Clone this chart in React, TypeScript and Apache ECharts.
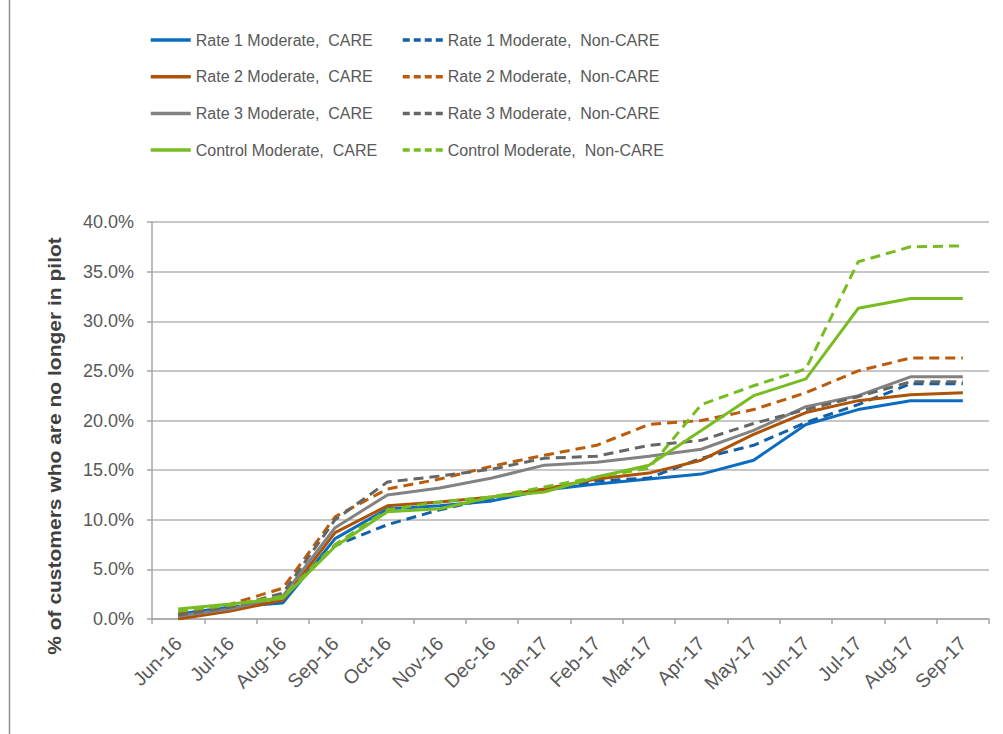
import React, { useEffect, useRef } from "react";
import * as echarts from "echarts";

const categories = [
  "Jun-16", "Jul-16", "Aug-16", "Sep-16", "Oct-16", "Nov-16", "Dec-16", "Jan-17",
  "Feb-17", "Mar-17", "Apr-17", "May-17", "Jun-17", "Jul-17", "Aug-17", "Sep-17",
];

const rate1Care = [0.5, 1.2, 1.6, 8.1, 11.1, 11.4, 11.9, 13.0, 13.6, 14.1, 14.6, 16.0, 19.6, 21.1, 22.0, 22.0];
const rate1NonCare = [0.3, 1.1, 2.2, 7.4, 9.5, 11.0, 12.2, 13.0, 13.9, 14.2, 16.2, 17.5, 19.8, 21.6, 23.7, 23.7];
const rate2Care = [0.0, 0.8, 1.9, 8.7, 11.4, 11.8, 12.3, 13.1, 14.1, 14.7, 16.0, 18.6, 20.8, 22.0, 22.6, 22.8];
const rate2NonCare = [0.5, 1.5, 3.1, 10.3, 13.1, 14.1, 15.4, 16.5, 17.5, 19.6, 20.0, 21.1, 22.8, 25.0, 26.3, 26.3];
const rate3Care = [0.3, 1.0, 2.3, 9.2, 12.5, 13.2, 14.2, 15.5, 15.8, 16.4, 17.1, 19.0, 21.4, 22.5, 24.4, 24.4];
const rate3NonCare = [0.4, 1.2, 2.6, 10.0, 13.8, 14.4, 15.1, 16.2, 16.4, 17.5, 18.0, 19.7, 21.1, 22.4, 23.9, 23.9];
const controlCare = [1.0, 1.5, 2.1, 7.3, 10.8, 11.1, 12.3, 12.8, 14.3, 15.5, 19.0, 22.5, 24.2, 31.3, 32.3, 32.3];
const controlNonCare = [0.8, 1.4, 2.3, 7.5, 11.0, 11.8, 12.3, 13.3, 14.3, 15.2, 21.6, 23.5, 25.2, 36.0, 37.5, 37.6];

const yTicks = { min: 0, max: 40, interval: 5 };
const yTitle = "% of customers who are no longer in pilot";

const FONT = '"Liberation Sans", Arial, sans-serif';
const TEXT = "#595959";

export default function App() {
  const ref = useRef<HTMLDivElement>(null);

  useEffect(() => {
    document.body.style.margin = "0";
    const chart = echarts.init(ref.current!, null, { renderer: "svg" });

    const defs = [
      { name: "Rate 1 Moderate,  CARE", data: rate1Care, color: "#0A6DC2", dashed: false },
      { name: "Rate 1 Moderate,  Non-CARE", data: rate1NonCare, color: "#145FA6", dashed: true },
      { name: "Rate 2 Moderate,  CARE", data: rate2Care, color: "#AE5205", dashed: false },
      { name: "Rate 2 Moderate,  Non-CARE", data: rate2NonCare, color: "#BA5C0C", dashed: true },
      { name: "Rate 3 Moderate,  CARE", data: rate3Care, color: "#828282", dashed: false },
      { name: "Rate 3 Moderate,  Non-CARE", data: rate3NonCare, color: "#666666", dashed: true },
      { name: "Control Moderate,  CARE", data: controlCare, color: "#77BD22", dashed: false },
      { name: "Control Moderate,  Non-CARE", data: controlNonCare, color: "#77BD22", dashed: true },
    ];

    const series = defs.map((d) => ({
      name: d.name,
      type: "line",
      data: d.data,
      symbol: "none",
      smooth: false,
      color: d.color,
      lineStyle: { color: d.color, width: 3, type: d.dashed ? [10, 6] : "solid" },
      emphasis: { disabled: true },
    }));

    const legendBase = {
      orient: "vertical",
      top: 27,
      itemWidth: 40,
      itemHeight: 14,
      itemGap: 20.7,
      selectedMode: false,
      itemStyle: { opacity: 0 },
      lineStyle: { width: 3.5 },
      textStyle: { fontFamily: FONT, fontSize: 16, color: TEXT },
    };

    chart.setOption({
      animation: false,
      backgroundColor: "#ffffff",
      grid: { left: 152, right: 14, top: 222, bottom: 115, containLabel: false },
      legend: [
        {
          ...legendBase,
          left: 144,
          data: defs.filter((d) => !d.dashed).map((d) => ({ name: d.name })),
        },
        {
          ...legendBase,
          left: 396,
          data: defs
            .filter((d) => d.dashed)
            .map((d) => ({ name: d.name, lineStyle: { type: [7, 4], width: 3.5 } })),
        },
      ],
      xAxis: {
        type: "category",
        data: categories,
        boundaryGap: true,
        axisLine: { lineStyle: { color: "#A6A6A6", width: 1.5 } },
        axisTick: { show: true, length: 5, lineStyle: { color: "#A6A6A6", width: 1.5 } },
        axisLabel: {
          interval: 0,
          rotate: 45,
          margin: 21,
          padding: [24, 0, 0, 0],
          fontFamily: FONT,
          fontSize: 19.5,
          color: TEXT,
        },
        splitLine: { show: false },
      },
      yAxis: {
        type: "value",
        min: yTicks.min,
        max: yTicks.max,
        interval: yTicks.interval,
        axisLine: { show: true, lineStyle: { color: "#A6A6A6", width: 1.5 } },
        axisTick: { show: true, length: 5, lineStyle: { color: "#A6A6A6", width: 1.5 } },
        axisLabel: {
          margin: 18,
          fontFamily: FONT,
          fontSize: 18,
          color: TEXT,
          formatter: (v: number) => v.toFixed(1) + "%",
        },
        splitLine: { show: true, lineStyle: { color: "#B4B4B4", width: 1.5 } },
      },
      graphic: [
        {
          type: "line",
          shape: { x1: 9.5, y1: 0, x2: 9.5, y2: 734 },
          style: { stroke: "#8C8C8C", lineWidth: 1.5 },
        },
        {
          type: "text",
          x: 55,
          y: 446,
          rotation: Math.PI / 2,
          scaleY: 0.86,
          style: {
            text: yTitle,
            font: `bold 21px ${FONT}`,
            fill: "#404040",
            align: "center",
            verticalAlign: "middle",
          },
        },
      ],
      series,
    });

    return () => chart.dispose();
  }, []);

  return <div ref={ref} style={{ width: 1003, height: 734 }} />;
}
